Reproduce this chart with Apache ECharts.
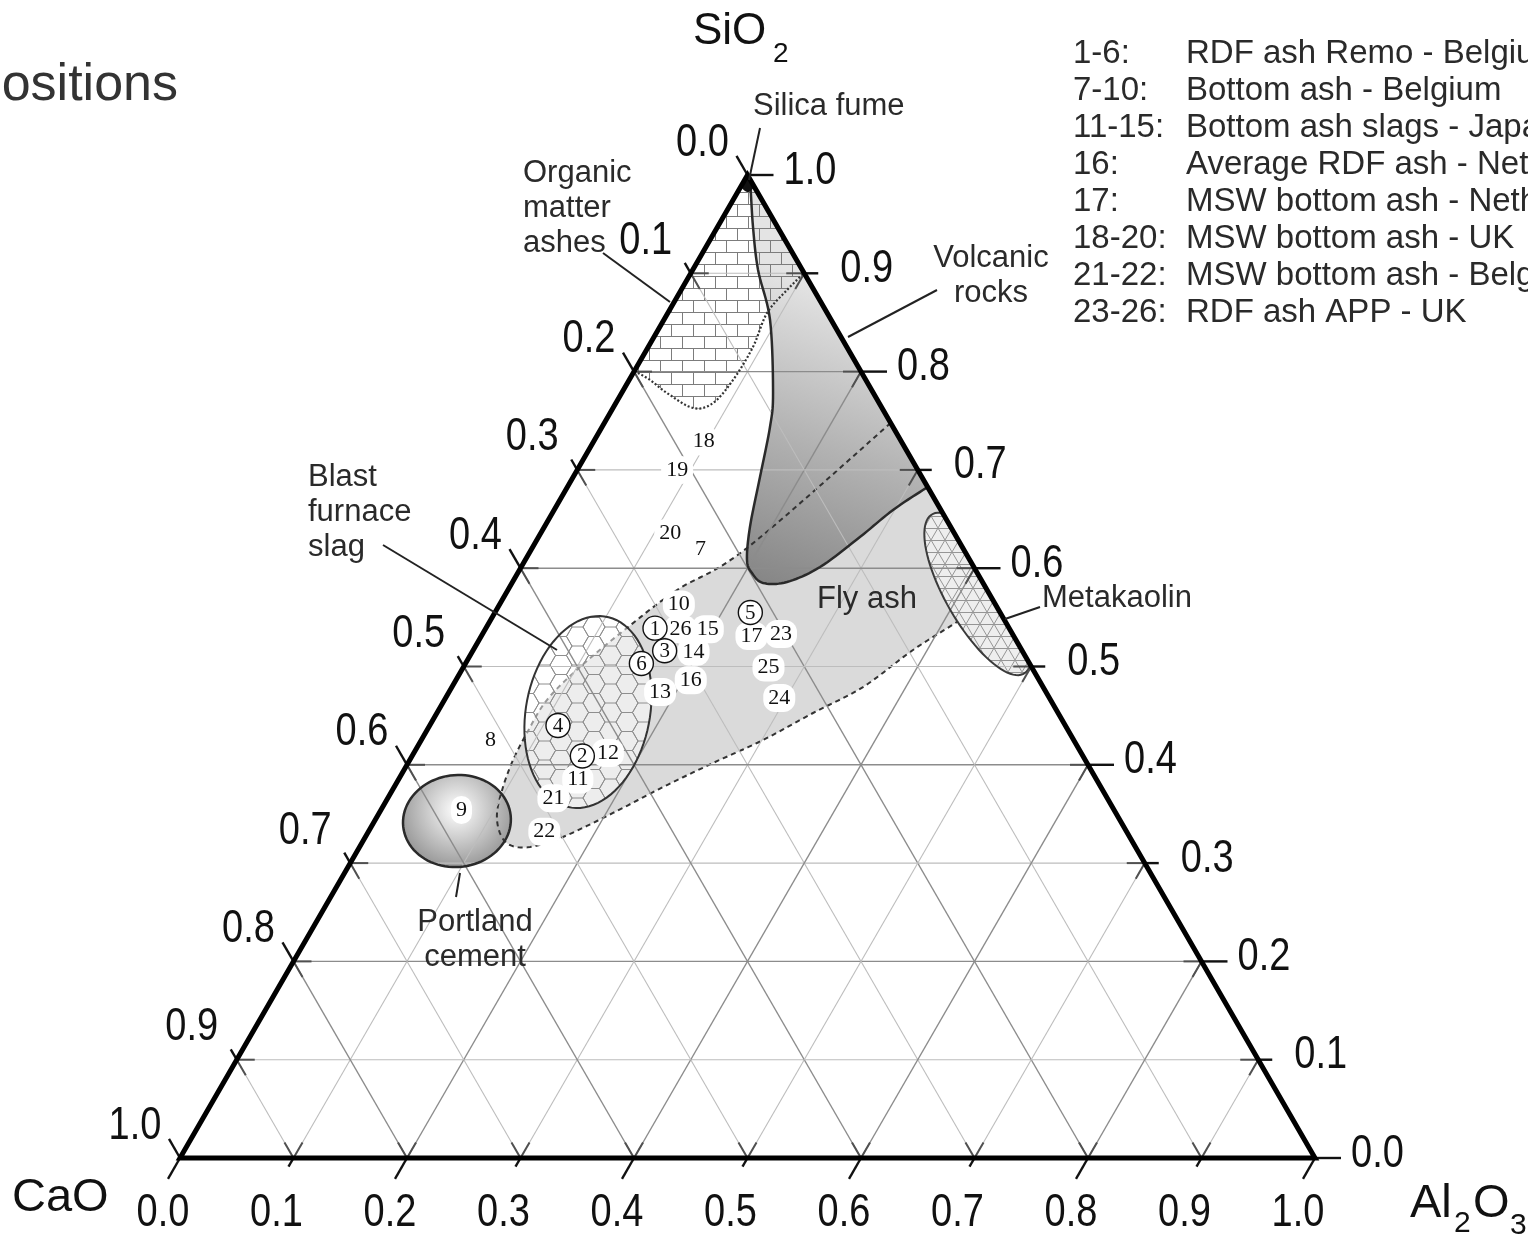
<!DOCTYPE html>
<html>
<head>
<meta charset="utf-8">
<title>Ternary diagram SiO2 - CaO - Al2O3</title>
<script src="https://cdn.jsdelivr.net/npm/echarts@6/dist/echarts.min.js"></script>
<style>
html,body{margin:0;padding:0;background:#ffffff;}
#chart{width:1528px;height:1239px;}
</style>
</head>
<body>
<div id="chart"></div>
<script>
// ================= DATA =================
const sampleIds = ['1','2','3','4','5','6','7','8','9','10','11','12','13','14','15','16','17','18','19','20','21','22','23','24','25','26'];
const sio2  = [0.539,0.409,0.516,0.440,0.555,0.503,0.619,0.425,0.354,0.563,0.385,0.412,0.474,0.515,0.538,0.486,0.531,0.729,0.700,0.636,0.366,0.332,0.533,0.468,0.499,0.538];
const al2o3 = [0.149,0.150,0.169,0.113,0.225,0.155,0.149,0.061,0.071,0.158,0.158,0.171,0.186,0.195,0.196,0.207,0.238,0.097,0.088,0.114,0.146,0.155,0.263,0.294,0.269,0.172];
const cao   = [0.312,0.441,0.315,0.447,0.220,0.342,0.232,0.514,0.575,0.279,0.457,0.417,0.340,0.290,0.266,0.307,0.231,0.174,0.212,0.250,0.488,0.513,0.204,0.238,0.232,0.290];
const circledIds = ['1','2','3','4','5','6'];

const tickValues = [0,0.1,0.2,0.3,0.4,0.5,0.6,0.7,0.8,0.9,1.0];
const tickLabels = ['0.0','0.1','0.2','0.3','0.4','0.5','0.6','0.7','0.8','0.9','1.0'];

const legendKeys  = ['1-6:','7-10:','11-15:','16:','17:','18-20:','21-22:','23-26:'];
const legendTexts = ['RDF ash Remo - Belgium','Bottom ash - Belgium','Bottom ash slags - Japan','Average RDF ash - Netherlands','MSW bottom ash - Netherlands','MSW bottom ash - UK','MSW bottom ash - Belgium','RDF ash APP - UK'];

// region outlines, [SiO2, Al2O3] (CaO = 1 - SiO2 - Al2O3)
const silicaFume = [[1,0],[0.9888,0],[0.9827,0.009],[0.9888,0.0112]];
const organicAshCurve = [[0.8006,0],[0.7915,0.0184],[0.7782,0.04],[0.763,0.0705],[0.768,0.0856],[0.7915,0.0915],[0.825,0.0923],[0.8596,0.0874],[0.883,0.0933],[0.9003,0.0997]];
const organicAshCorner = [[1,0]];
const volcanicCurve = [[1,0],[0.9929,0.0058],[0.9471,0.0313],[0.9034,0.0576],[0.8525,0.0936],[0.7782,0.1334],[0.7436,0.148],[0.6928,0.1646],[0.6419,0.1812],[0.6083,0.1954],[0.5951,0.2064],[0.585,0.2212],[0.586,0.2418],[0.6012,0.2633],[0.6317,0.2832],[0.6592,0.2986],[0.6826,0.3174]];
const flyAshCurve = [[0.7477,0.2523],[0.6205,0.1893],[0.5778,0.149],[0.5392,0.1242],[0.4995,0.1027],[0.4659,0.0903],[0.4323,0.0895],[0.4049,0.091],[0.3774,0.0959],[0.351,0.1038],[0.3306,0.1166],[0.3184,0.1315],[0.3164,0.1502],[0.3266,0.1741],[0.351,0.206],[0.3774,0.2369],[0.4018,0.2687],[0.4252,0.3011],[0.4527,0.3314],[0.4791,0.3622],[0.5168,0.3874],[0.5473,0.4135],[0.5707,0.4293]];
const slagCenter = [0.4537,0.1326];
const portlandCenter = [0.3428,0.0726];
const metakaolinCenter = [0.5738,0.4162];

// ================= HELPERS =================
const H = Math.sqrt(3) / 2;
function tern(s, a) { return [a + s / 2, s * H]; }
function P(api, s, a) { return api.coord(tern(s, a)); }
function add(p, dx, dy) { return [p[0] + dx, p[1] + dy]; }
function ln(p, q, style) { return { type: 'line', shape: { x1: p[0], y1: p[1], x2: q[0], y2: q[1] }, style: style }; }

function spline(pts, seg, closed) {
  const out = [], m = pts.length;
  const get = i => closed ? pts[(i + m) % m] : pts[Math.max(0, Math.min(m - 1, i))];
  const n = closed ? m : m - 1;
  for (let i = 0; i < n; i++) {
    const p0 = get(i - 1), p1 = get(i), p2 = get(i + 1), p3 = get(i + 2);
    for (let k = 0; k < seg; k++) {
      const t = k / seg, t2 = t * t, t3 = t2 * t;
      const f = j => 0.5 * ((2 * p1[j]) + (-p0[j] + p2[j]) * t + (2 * p0[j] - 5 * p1[j] + 4 * p2[j] - p3[j]) * t2 + (-p0[j] + 3 * p1[j] - 3 * p2[j] + p3[j]) * t3);
      out.push([f(0), f(1)]);
    }
  }
  if (!closed) out.push(pts[m - 1]);
  return out;
}
function curvePts(api, arr, closed) { return spline(arr.map(d => P(api, d[0], d[1])), 10, closed); }
function ellipsePts(api, center, rx, ry, rotDeg) {
  const c = P(api, center[0], center[1]);
  const k = api.size([1, 0])[0];
  const th = rotDeg * Math.PI / 180, ct = Math.cos(th), st = Math.sin(th);
  const out = [];
  for (let i = 0; i < 90; i++) {
    const t = i / 90 * Math.PI * 2;
    const x = rx * k * Math.cos(t), y = ry * k * Math.sin(t);
    out.push([c[0] + x * ct - y * st, c[1] + x * st + y * ct]);
  }
  return out;
}
function clipHalf(pts, A, B, ref) {
  const f = p => (B[0] - A[0]) * (p[1] - A[1]) - (B[1] - A[1]) * (p[0] - A[0]);
  const sref = Math.sign(f(ref));
  const inter = (p, q, fp, fq) => { const t = fp / (fp - fq); return [p[0] + t * (q[0] - p[0]), p[1] + t * (q[1] - p[1])]; };
  const out = [];
  for (let i = 0; i < pts.length; i++) {
    const cur = pts[i], prev = pts[(i + pts.length - 1) % pts.length];
    const fc = f(cur) * sref, fp = f(prev) * sref;
    if (fc >= 0) { if (fp < 0) out.push(inter(prev, cur, fp, fc)); out.push(cur); }
    else if (fp >= 0) out.push(inter(prev, cur, fp, fc));
  }
  return out;
}

// ---------- patterns ----------
function makeCanvas(w, h, draw) { const c = document.createElement('canvas'); c.width = w; c.height = h; draw(c.getContext('2d')); return c; }
const brickCanvas = makeCanvas(22, 24, g => {
  g.strokeStyle = '#7c7c7c'; g.lineWidth = 1; g.beginPath();
  g.moveTo(0, 0.5); g.lineTo(22, 0.5); g.moveTo(0, 12.5); g.lineTo(22, 12.5);
  g.moveTo(0.5, 0); g.lineTo(0.5, 12.5); g.moveTo(11.5, 12.5); g.lineTo(11.5, 24);
  g.stroke();
});
const hexR = 11, hexH = Math.round(Math.sqrt(3) * hexR);
const hexCanvas = makeCanvas(3 * hexR, hexH, g => {
  g.strokeStyle = '#8e8e8e'; g.lineWidth = 1;
  const hex = (cx, cy) => { g.beginPath(); for (let i = 0; i <= 6; i++) { const a = i * Math.PI / 3; const x = cx + hexR * Math.cos(a), y = cy + hexR * Math.sin(a) * (hexH / (Math.sqrt(3) * hexR)); if (i === 0) g.moveTo(x, y); else g.lineTo(x, y); } g.stroke(); };
  [[0, 0], [3 * hexR, 0], [0, hexH], [3 * hexR, hexH], [1.5 * hexR, hexH / 2]].forEach(c => hex(c[0], c[1]));
});
const meshCanvas = makeCanvas(14, 24, g => {
  g.strokeStyle = '#959595'; g.lineWidth = 1; g.beginPath();
  g.moveTo(0, 0.5); g.lineTo(14, 0.5); g.moveTo(0, 12.5); g.lineTo(14, 12.5);
  g.moveTo(0, 0); g.lineTo(14, 24); g.moveTo(14, 0); g.lineTo(0, 24);
  g.stroke();
});
const brickPattern = { image: brickCanvas, repeat: 'repeat' };
const hexPattern = { image: hexCanvas, repeat: 'repeat' };
const meshPattern = { image: meshCanvas, repeat: 'repeat' };

const volcanicGrad = new echarts.graphic.LinearGradient(0, 1, 0.6, 0.3, [
  { offset: 0, color: '#848484' }, { offset: 0.5, color: '#b2b2b2' }, { offset: 1, color: '#e4e4e4' }]);
const portlandGrad = new echarts.graphic.RadialGradient(0.5, 0.38, 0.68, [
  { offset: 0, color: '#ffffff' }, { offset: 1, color: '#929292' }]);

const SANS = '"Liberation Sans", Arial, Helvetica, sans-serif';
const SERIF = '"Liberation Serif", "Times New Roman", serif';
function text(x, y, str, size, opt) {
  opt = opt || {};
  const align = opt.align || 'left';
  const st = { text: str, x: 0, y: 0, fill: opt.color || '#2a2a2a', font: (opt.family ? size + 'px ' + opt.family : size + 'px ' + SANS),
    align: align, verticalAlign: 'middle', textAlign: align, textVerticalAlign: 'middle' };
  if (opt.bg) { st.backgroundColor = opt.bg; st.padding = opt.pad || [1, 3]; st.borderRadius = opt.radius || 9; }
  return { type: 'text', x: x, y: y, scaleY: opt.sy || 1, style: st };
}

// ---------- layers ----------
function fillsLayer(api) {
  const ch = [];
  const fly = curvePts(api, flyAshCurve);
  ch.push({ type: 'polygon', shape: { points: fly }, style: { fill: '#dadada' } });
  const vol = curvePts(api, volcanicCurve);
  ch.push({ type: 'polygon', shape: { points: vol }, style: { fill: volcanicGrad } });
  const port = ellipsePts(api, portlandCenter, 0.0476, 0.0405, -6);
  ch.push({ type: 'polygon', shape: { points: port }, style: { fill: portlandGrad } });
  ch.push({ type: 'polyline', shape: { points: fly }, style: { fill: 'none', stroke: '#333', lineWidth: 2, lineDash: [5, 4] } });
  const slag = ellipsePts(api, slagCenter, 0.0546, 0.0855, 11);
  ch.push({ type: 'polygon', shape: { points: slag }, style: { fill: 'rgba(255,255,255,0.5)' } });
  ch.push({ type: 'polygon', shape: { points: slag }, style: { fill: hexPattern } });
  const meta = clipHalf(ellipsePts(api, metakaolinCenter, 0.0282, 0.081, -30), P(api, 1, 0), P(api, 0, 1), P(api, 0, 0));
  ch.push({ type: 'polygon', shape: { points: meta }, style: { fill: '#eeeeee' } });
  ch.push({ type: 'polygon', shape: { points: meta }, style: { fill: meshPattern } });
  const org = curvePts(api, organicAshCurve).concat(organicAshCorner.map(d => P(api, d[0], d[1])));
  ch.push({ type: 'polygon', shape: { points: org }, style: { fill: brickPattern } });
  return ch;
}
function gridLayer(api) {
  const ch = [];
  tickValues.forEach(v => {
    if (v <= 0 || v >= 1) return;
    const major = Math.round(v * 10) % 2 === 0;
    const st = { stroke: major ? '#8c8c8c' : '#bdbdbd', lineWidth: major ? 1.4 : 1.1 };
    ch.push(ln(P(api, v, 0), P(api, v, 1 - v), st));
    ch.push(ln(P(api, 0, v), P(api, 1 - v, v), st));
    ch.push(ln(P(api, 1 - v, 0), P(api, 0, 1 - v), st));
  });
  return ch;
}
function outlineLayer(api) {
  const ch = [];
  ch.push({ type: 'polyline', shape: { points: curvePts(api, volcanicCurve) }, style: { fill: 'none', stroke: '#2a2a2a', lineWidth: 2.5 } });
  ch.push({ type: 'polyline', shape: { points: curvePts(api, organicAshCurve) }, style: { fill: 'none', stroke: '#333', lineWidth: 2.2, lineDash: [2, 2] } });
  ch.push({ type: 'polygon', shape: { points: ellipsePts(api, slagCenter, 0.0546, 0.0855, 11) }, style: { fill: 'none', stroke: '#333', lineWidth: 2 } });
  ch.push({ type: 'polygon', shape: { points: ellipsePts(api, portlandCenter, 0.0476, 0.0405, -6) }, style: { fill: 'none', stroke: '#2a2a2a', lineWidth: 2.5 } });
  const meta = clipHalf(ellipsePts(api, metakaolinCenter, 0.0282, 0.081, -30), P(api, 1, 0), P(api, 0, 1), P(api, 0, 0));
  ch.push({ type: 'polygon', shape: { points: meta }, style: { fill: 'none', stroke: '#3a3a3a', lineWidth: 2 } });
  ch.push({ type: 'polygon', shape: { points: curvePts(api, silicaFume, true) }, style: { fill: '#111' } });
  return ch;
}
function frameLayer(api) {
  const ch = [];
  const top = P(api, 1, 0), bl = P(api, 0, 0), br = P(api, 0, 1);
  const tk = { stroke: '#111', lineWidth: 2.4 };
  const arm = { stroke: '#505050', lineWidth: 2 };
  const A = 18;
  tickValues.forEach(v => {
    const major = Math.round(v * 10) % 2 === 0;
    const inner = v > 0 && v < 1;
    // bottom axis: Al2O3
    let p = P(api, 0, v), L = major ? 24 : 10;
    ch.push(ln(p, add(p, -0.5 * L, 0.866 * L), tk));
    if (inner) { ch.push(ln(p, add(p, 0.5 * A, -0.866 * A), arm)); ch.push(ln(p, add(p, -0.5 * A, -0.866 * A), arm)); }
    // right axis: SiO2
    p = P(api, v, 1 - v); L = major ? 26 : 14;
    ch.push(ln(p, add(p, L, 0), tk));
    if (inner) { ch.push(ln(p, add(p, -A, 0), arm)); ch.push(ln(p, add(p, -0.5 * A, 0.866 * A), arm)); }
    // left axis: CaO
    p = P(api, 1 - v, 0); L = major ? 22 : 12;
    ch.push(ln(p, add(p, -0.5 * L, -0.866 * L), tk));
    if (inner) { ch.push(ln(p, add(p, 0.5 * A, 0.866 * A), arm)); ch.push(ln(p, add(p, A, 0), arm)); }
  });
  ch.push({ type: 'polygon', shape: { points: [top, bl, br] }, style: { fill: 'none', stroke: '#000', lineWidth: 5, lineJoin: 'miter' } });
  return ch;
}
function textLayer(api) {
  const ch = [];
  // tick labels
  tickValues.forEach((v, i) => {
    let p = P(api, 0, v);
    ch.push(text(p[0] - 17, p[1] + 55, tickLabels[i], 38, { align: 'center', sy: 1.2, color: '#111' }));
    p = P(api, v, 1 - v);
    ch.push(text(p[0] + 36, p[1] - 4, tickLabels[i], 38, { align: 'left', sy: 1.2, color: '#111' }));
    p = P(api, 1 - v, 0);
    ch.push(text(p[0] - 45, p[1] - 32, tickLabels[i], 38, { align: 'center', sy: 1.2, color: '#111' }));
  });
  // axis titles
  ch.push(text(693, 32, 'SiO', 44, { color: '#111' }));
  ch.push(text(773, 54, '2', 28, { color: '#111' }));
  ch.push(text(12, 1198, 'CaO', 47, { color: '#111' }));
  ch.push(text(1410, 1204, 'Al', 47, { color: '#111' }));
  ch.push(text(1454, 1224, '2', 30, { color: '#111' }));
  ch.push(text(1473, 1204, 'O', 47, { color: '#111' }));
  ch.push(text(1510, 1226, '3', 30, { color: '#111' }));
  // title fragment
  ch.push(text(178, 86, 'ositions', 52, { align: 'right', color: '#333' }));
  // legend
  legendKeys.forEach((k, i) => {
    const y = 54 + i * 37;
    ch.push(text(1073, y, k, 33, { color: '#2a2a2a' }));
    ch.push(text(1186, y, legendTexts[i], 33, { color: '#2a2a2a' }));
  });
  // region labels + leaders
  const lead = { stroke: '#222', lineWidth: 2 };
  ch.push(ln([760, 128], [749, 180], lead));
  ch.push(text(753, 106, 'Silica fume', 31));
  ch.push(ln([603, 253], [670, 302], lead));
  ['Organic', 'matter', 'ashes'].forEach((t, i) => ch.push(text(523, 173 + i * 35, t, 31)));
  ch.push(ln([937, 290], [848, 337], lead));
  ['Volcanic', 'rocks'].forEach((t, i) => ch.push(text(991, 258 + i * 35, t, 31, { align: 'center' })));
  ch.push(ln([383, 545], [557, 650], lead));
  ['Blast', 'furnace', 'slag'].forEach((t, i) => ch.push(text(308, 477 + i * 35, t, 31)));
  ch.push(text(817, 599, 'Fly ash', 31));
  ch.push(ln([1040, 607], [1005, 619], lead));
  ch.push(text(1042, 598, 'Metakaolin', 31));
  ch.push(ln([460, 873], [456, 897], lead));
  ['Portland', 'cement'].forEach((t, i) => ch.push(text(475, 922 + i * 35, t, 31, { align: 'center' })));
  return ch;
}
function pointLayer(api) {
  const plain = [], circled = [];
  sampleIds.forEach((id, i) => {
    const p = P(api, sio2[i], al2o3[i]);
    if (circledIds.indexOf(id) >= 0) {
      circled.push({ type: 'circle', shape: { cx: p[0], cy: p[1], r: 12 }, style: { fill: '#fff', stroke: '#111', lineWidth: 1.4 } });
      circled.push(text(p[0], p[1] + 1, id, 21, { align: 'center', family: SERIF, color: '#111' }));
    } else {
      plain.push(text(p[0], p[1], id, 22, { align: 'center', family: SERIF, color: '#111', bg: '#ffffff', pad: [3, 5], radius: 12 }));
    }
  });
  return plain.concat(circled);
}
function layer(z, fn) {
  return { type: 'custom', coordinateSystem: 'cartesian2d', data: [[0, 0]], z: z, silent: true, clip: false,
    renderItem: (params, api) => ({ type: 'group', children: fn(api) }) };
}

const chart = echarts.init(document.getElementById('chart'), null, { renderer: 'canvas' });
chart.setOption({
  animation: false,
  backgroundColor: '#ffffff',
  grid: { left: 180, top: 175, width: 1135, height: 983, containLabel: false, outerBoundsMode: 'none' },
  xAxis: { type: 'value', min: 0, max: 1, show: false },
  yAxis: { type: 'value', min: 0, max: H, show: false },
  series: [layer(1, fillsLayer), layer(2, gridLayer), layer(3, outlineLayer), layer(4, frameLayer), layer(5, textLayer), layer(6, pointLayer)]
});
</script>
</body>
</html>
